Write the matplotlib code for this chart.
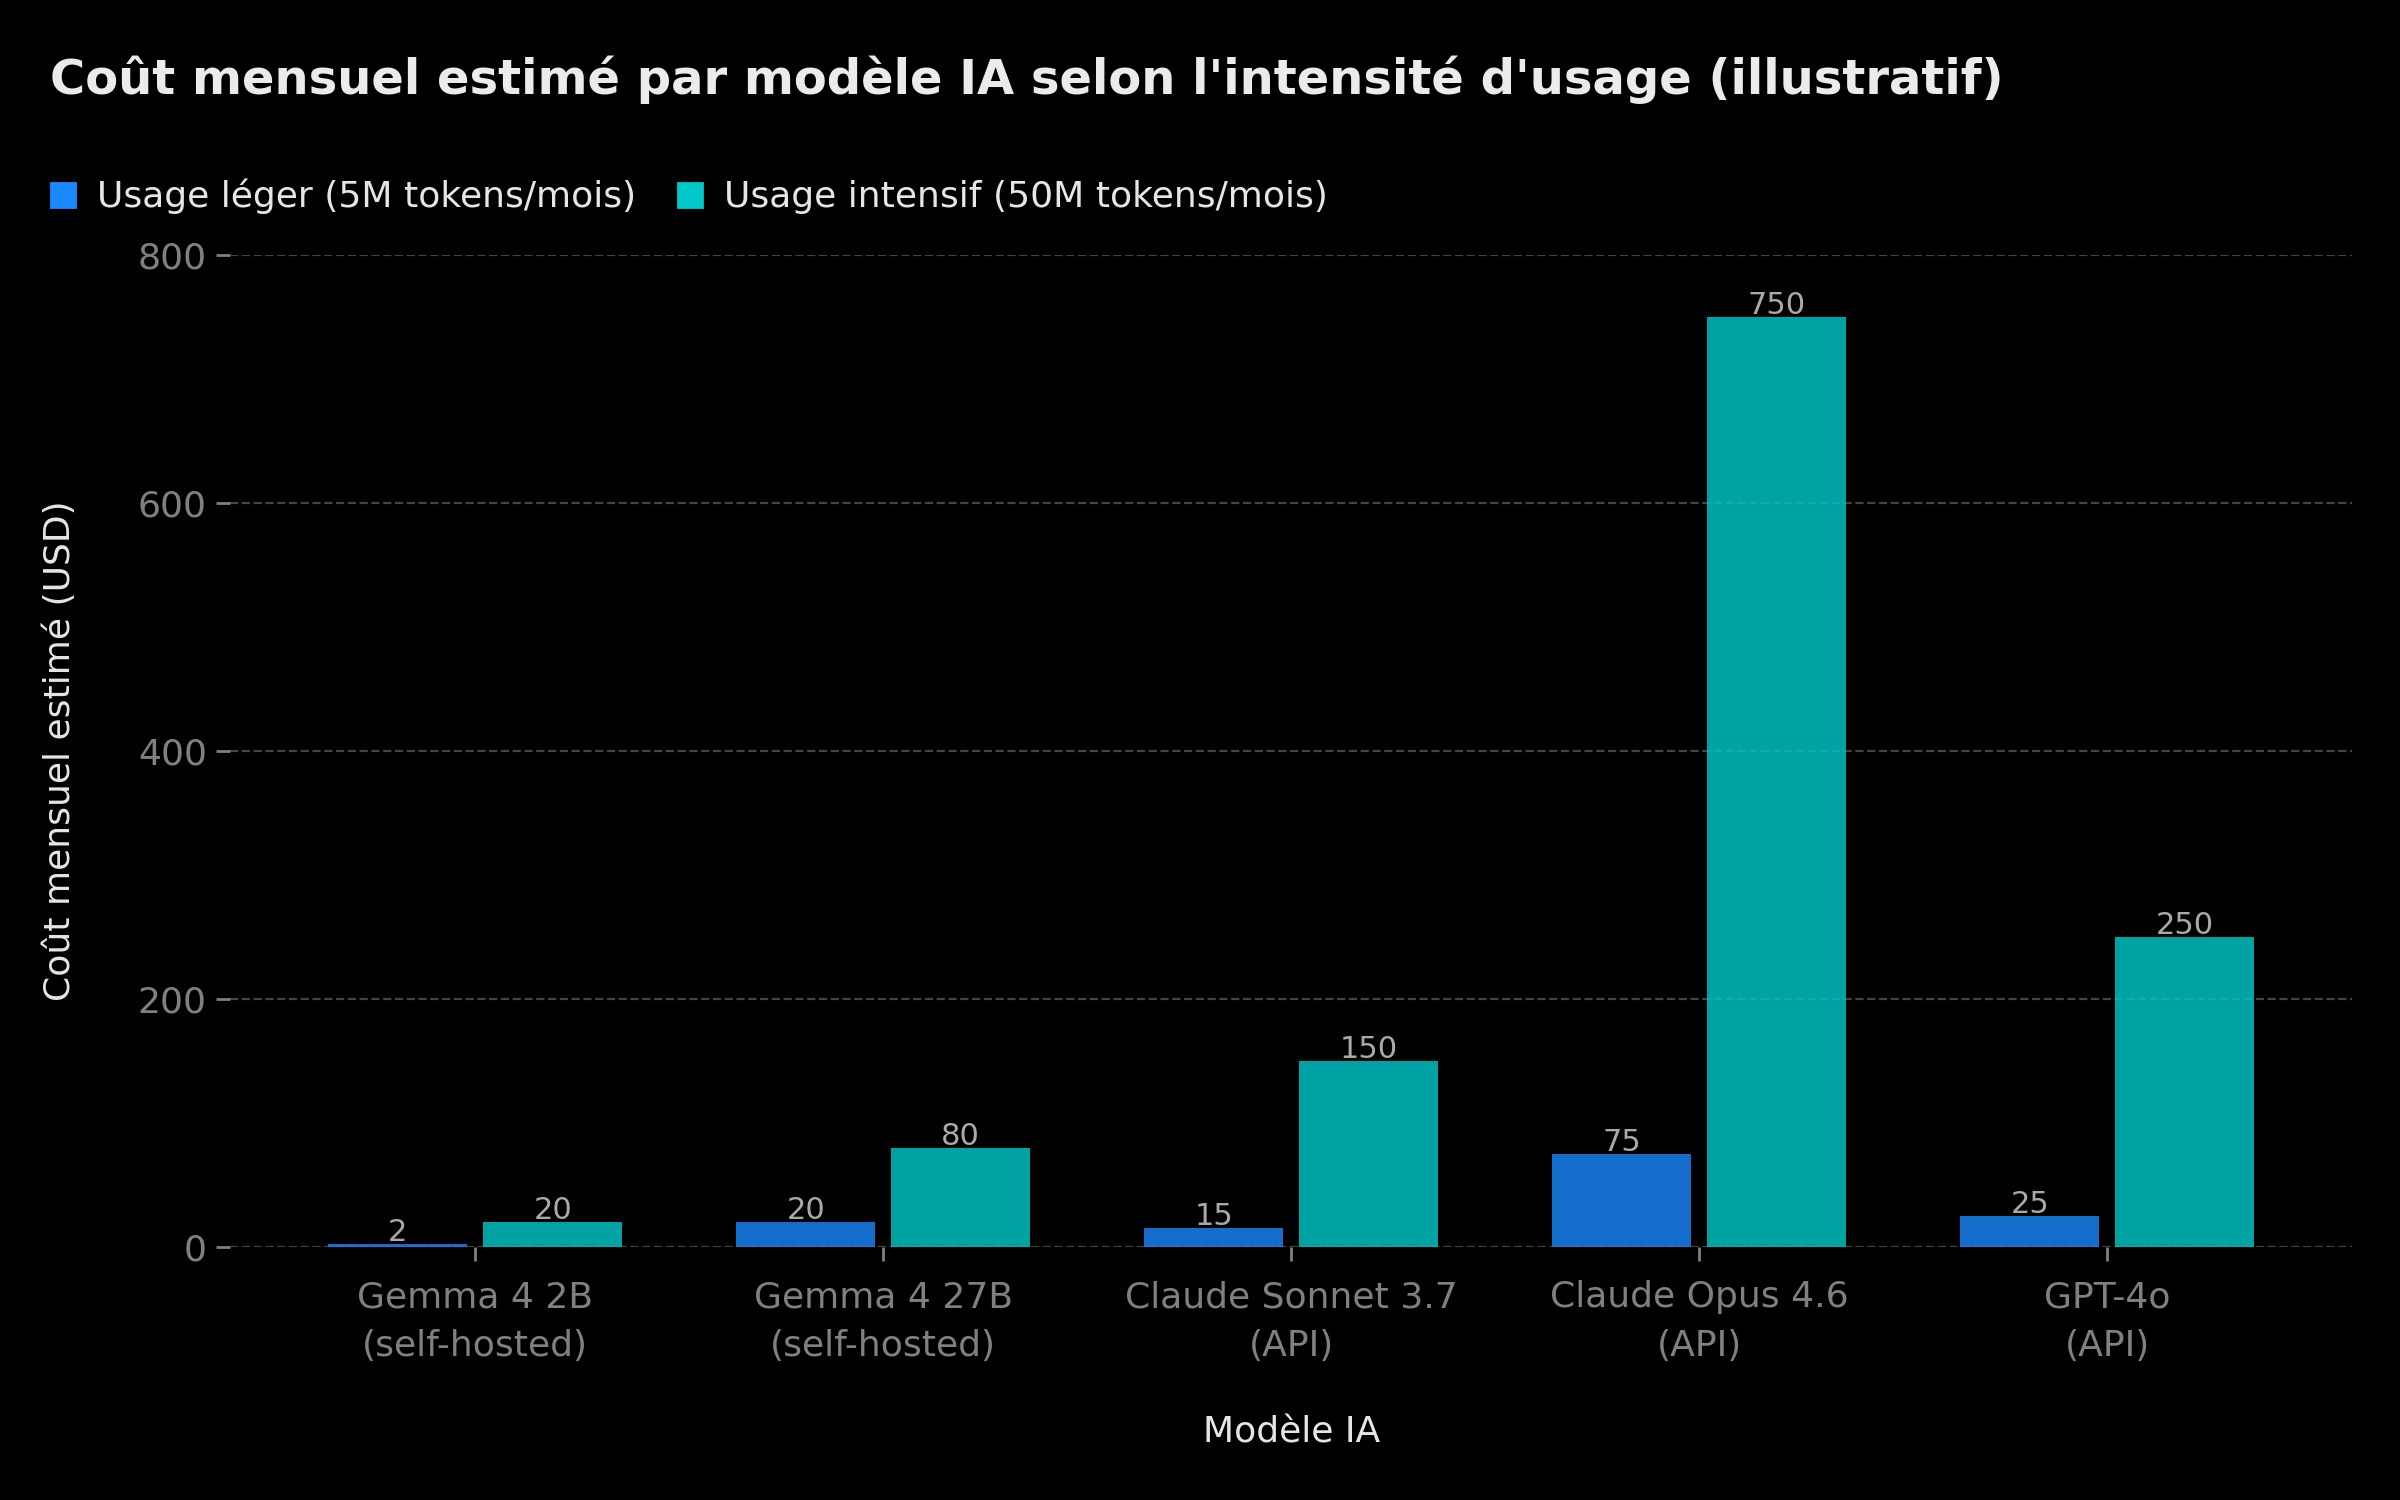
import numpy as np
import matplotlib.pyplot as plt
from matplotlib.lines import Line2D

models = ['Gemma 4 2B\n(self-hosted)', 'Gemma 4 27B\n(self-hosted)',
          'Claude Sonnet 3.7\n(API)', 'Claude Opus 4.6\n(API)', 'GPT-4o\n(API)']
light_usage = [2, 20, 15, 75, 25]
heavy_usage = [20, 80, 150, 750, 250]
series_names = ['Usage léger (5M tokens/mois)', 'Usage intensif (50M tokens/mois)']
series_colors = ['#1a88ff', '#00c8c8']
yticks = [0, 200, 400, 600, 800]

plt.rcParams['font.family'] = ['DejaVu Sans']

fig = plt.figure(figsize=(12, 7.5), dpi=200, facecolor='black')
ax = fig.add_axes([0.096, 0.1687, 0.884, 0.6613])
ax.set_facecolor('black')

x = np.arange(len(models))
w = 0.34
off = 0.19
b1 = ax.bar(x - off, light_usage, w, color=series_colors[0], alpha=0.8, zorder=3)
b2 = ax.bar(x + off, heavy_usage, w, color=series_colors[1], alpha=0.82, zorder=3)

for bars in (b1, b2):
    for rect in bars:
        h = rect.get_height()
        ax.annotate(f'{h:g}', (rect.get_x() + rect.get_width() / 2, h),
                    xytext=(0, -1), textcoords='offset points',
                    ha='center', va='bottom', fontsize=11, color='#aaaaaa', zorder=4)

ax.set_xlim(-0.6, 4.6)
ax.set_ylim(0, 800)
ax.set_xticks(x)
ax.set_xticklabels(models, fontsize=13, color='#808080', linespacing=1.55)
ax.set_yticks(yticks)
ax.set_yticklabels([str(t) for t in yticks], fontsize=13, color='#808080')
ax.tick_params(axis='both', colors='#808080', length=5, width=1)
ax.tick_params(axis='x', pad=7)
ax.grid(axis='y', color='#444444', linestyle='--', linewidth=0.8, zorder=0)
for s in ax.spines.values():
    s.set_visible(False)

ax.set_xlabel('Modèle IA', fontsize=13, color='#e6e6e6', labelpad=19)
ax.set_ylabel('Coût mensuel estimé (USD)', fontsize=13, color='#e6e6e6', labelpad=22)

fig.text(0.021, 0.947, "Coût mensuel estimé par modèle IA selon l'intensité d'usage (illustratif)",
         fontsize=17.3, fontweight='bold', color='#ebebeb', va='center', ha='left')

handles = [Line2D([], [], marker='s', linestyle='none', markersize=8.6, color=c) for c in series_colors]
fig.legend(handles, series_names, loc='center left', bbox_to_anchor=(0.005, 0.869),
           ncol=2, frameon=False, fontsize=13, labelcolor='#e6e6e6',
           handletextpad=0.45, columnspacing=1.0, handlelength=1.0)

fig.savefig('out.png', dpi=200, facecolor='black')
